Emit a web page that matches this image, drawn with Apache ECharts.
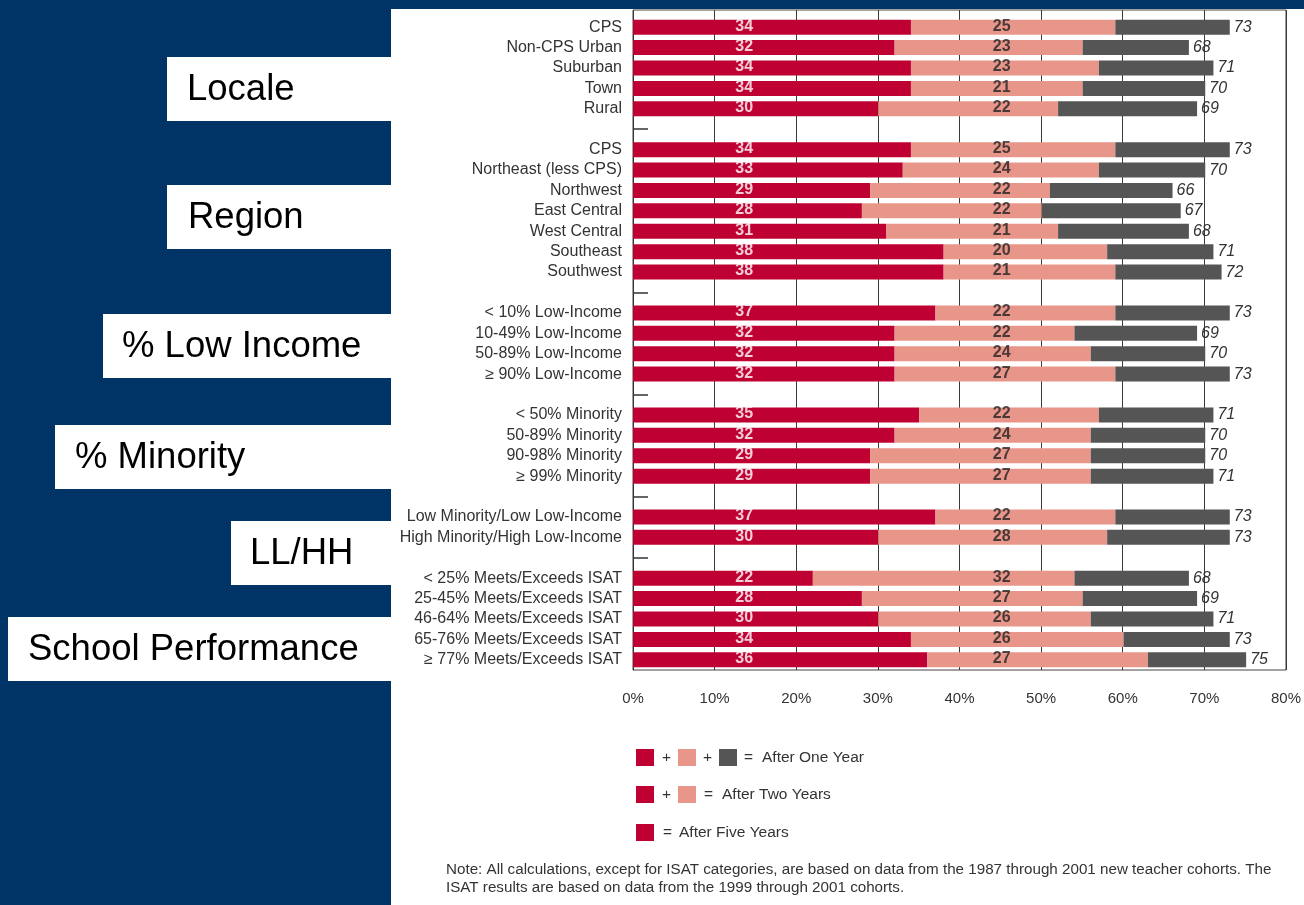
<!DOCTYPE html>
<html>
<head>
<meta charset="utf-8">
<title>New teacher retention by school characteristics</title>
<script src="https://cdn.jsdelivr.net/npm/echarts@6/dist/echarts.min.js"></script>
<style>
  html, body { margin: 0; padding: 0; background: #003366; }
  #chart { width: 1304px; height: 905px; }
</style>
</head>
<body>
<div id="chart"></div>
<script>
// Row labels, with an empty entry marking the gap between groups
const categories = [
  'CPS', 'Non-CPS Urban', 'Suburban', 'Town', 'Rural', '',
  'CPS', 'Northeast (less CPS)', 'Northwest', 'East Central', 'West Central', 'Southeast', 'Southwest', '',
  '< 10% Low-Income', '10-49% Low-Income', '50-89% Low-Income', '\u2265 90% Low-Income', '',
  '< 50% Minority', '50-89% Minority', '90-98% Minority', '\u2265 99% Minority', '',
  'Low Minority/Low Low-Income', 'High Minority/High Low-Income', '',
  '< 25% Meets/Exceeds ISAT', '25-45% Meets/Exceeds ISAT', '46-64% Meets/Exceeds ISAT',
  '65-76% Meets/Exceeds ISAT', '\u2265 77% Meets/Exceeds ISAT'
];

// Percent of new teachers who left after five years
const afterFiveYears = [34, 32, 34, 34, 30, null,
  34, 33, 29, 28, 31, 38, 38, null,
  37, 32, 32, 32, null,
  35, 32, 29, 29, null,
  37, 30, null,
  22, 28, 30, 34, 36];

// Additional percent counted after two years
const addedAfterTwoYears = [25, 23, 23, 21, 22, null,
  25, 24, 22, 22, 21, 20, 21, null,
  22, 22, 24, 27, null,
  22, 24, 27, 27, null,
  22, 28, null,
  32, 27, 26, 26, 27];

// Total percent after one year
const afterOneYear = [73, 68, 71, 70, 69, null,
  73, 70, 66, 67, 68, 71, 72, null,
  73, 69, 70, 73, null,
  71, 70, 70, 71, null,
  73, 73, null,
  68, 69, 71, 73, 75];

const xTicks = [0, 10, 20, 30, 40, 50, 60, 70, 80];

const groupLabels = ['Locale', 'Region', '% Low Income', '% Minority', 'LL/HH', 'School Performance'];

// Remaining segment of each bar: one-year total minus the two inner segments
const addedAfterOneYear = afterOneYear.map((t, i) =>
  t == null ? null : t - afterFiveYears[i] - addedAfterTwoYears[i]);

const RED = '#BE0032';
const SALMON = '#E8968A';
const GRAY = '#555555';
const FONT = '"Liberation Sans", Arial, Helvetica, sans-serif';

// Value labels sit in two fixed columns across the chart
const COL_FIVE = 13.6;
const COL_TWO = 45.1;

function columnPoints(values, x) {
  const pts = [];
  values.forEach((v, i) => { if (v != null) pts.push({ value: [x, i], v: v }); });
  return pts;
}

const chart = echarts.init(document.getElementById('chart'), null, { renderer: 'canvas' });

// Side panel with group names
const boxes = [
  { x: 167, y: 57, w: 224, text: groupLabels[0], tx: 187 },
  { x: 167, y: 185, w: 224, text: groupLabels[1], tx: 188 },
  { x: 103, y: 314, w: 288, text: groupLabels[2], tx: 122 },
  { x: 55, y: 425, w: 336, text: groupLabels[3], tx: 75 },
  { x: 231, y: 521, w: 160, text: groupLabels[4], tx: 250 },
  { x: 8, y: 617, w: 383, text: groupLabels[5], tx: 28 }
];

const graphics = [
  { type: 'rect', z: -10, silent: true,
    shape: { x: 391, y: 9, width: 913, height: 896 },
    style: { fill: '#ffffff' } }
];
boxes.forEach(b => {
  graphics.push({ type: 'rect', z: -5, silent: true,
    shape: { x: b.x, y: b.y, width: b.w, height: 64 },
    style: { fill: '#ffffff' } });
  graphics.push({ type: 'text', z: 5, silent: true,
    style: { x: b.tx, y: b.y + 33, text: b.text, fill: '#000', font: '36.5px ' + FONT,
      textVerticalAlign: 'middle', textAlign: 'left' } });
});

// Legend: colour sums
function sq(x, y, color) {
  return { type: 'rect', z: 5, silent: true, shape: { x: x, y: y, width: 18, height: 17 }, style: { fill: color } };
}
function txt(x, y, s, size) {
  return { type: 'text', z: 5, silent: true,
    style: { x: x, y: y, text: s, fill: '#333', font: (size || 15.5) + 'px ' + FONT,
      textVerticalAlign: 'middle', textAlign: 'left' } };
}
graphics.push(
  sq(636, 749, RED), txt(662, 758, '+'), sq(678, 749, SALMON), txt(703, 758, '+'),
  sq(719, 749, GRAY), txt(744, 758, '='), txt(762, 758, 'After One Year'),
  sq(636, 786, RED), txt(662, 795, '+'), sq(678, 786, SALMON), txt(704, 795, '='),
  txt(722, 795, 'After Two Years'),
  sq(636, 824, RED), txt(663, 833, '='), txt(679, 833, 'After Five Years'),
  txt(446, 870, 'Note: All calculations, except for ISAT categories, are based on data from the 1987 through 2001 new teacher cohorts. The', 15.2),
  txt(446, 888, 'ISAT results are based on data from the 1999 through 2001 cohorts.', 15.2)
);

const option = {
  backgroundColor: '#003366',
  animation: false,
  textStyle: { fontFamily: FONT },
  graphic: { elements: graphics },
  grid: [
    { left: 633, top: 10, width: 654, height: 660, show: true,
      borderColor: '#444', borderWidth: 1, backgroundColor: 'transparent' },
    { left: 633, top: 17, width: 654, height: 653 }
  ],
  xAxis: [
    { type: 'value', gridIndex: 0, min: 0, max: 80, interval: 10,
      axisLine: { show: false }, axisTick: { show: false },
      splitLine: { show: true, lineStyle: { color: '#3a3a3a', width: 1 } },
      axisLabel: { margin: 21, fontSize: 15, color: '#333', fontFamily: FONT,
        formatter: v => xTicks.indexOf(v) >= 0 ? v + '%' : '' } },
    { type: 'value', gridIndex: 1, min: 0, max: 80, show: false }
  ],
  yAxis: [
    { type: 'value', gridIndex: 0, min: 0, max: 1, show: false },
    { type: 'category', gridIndex: 1, data: categories, inverse: true,
      axisLine: { show: true, lineStyle: { color: '#333', width: 1 } },
      axisTick: { show: true, inside: true, length: 15, alignWithLabel: true,
        interval: (i, v) => v === '',
        lineStyle: { color: '#333', width: 1.5 } },
      axisLabel: { interval: 0, fontSize: 16, color: '#333', margin: 11, fontFamily: FONT },
      splitLine: { show: false } }
  ],
  series: [
    { name: 'After Five Years', type: 'bar', stack: 'total', xAxisIndex: 1, yAxisIndex: 1,
      barWidth: 15, data: afterFiveYears, itemStyle: { color: RED } },
    { name: 'After Two Years', type: 'bar', stack: 'total', xAxisIndex: 1, yAxisIndex: 1,
      barWidth: 15, data: addedAfterTwoYears, itemStyle: { color: SALMON } },
    { name: 'After One Year', type: 'bar', stack: 'total', xAxisIndex: 1, yAxisIndex: 1,
      barWidth: 15, data: addedAfterOneYear, itemStyle: { color: GRAY },
      label: { show: true, position: 'right', distance: 4,
        formatter: p => afterOneYear[p.dataIndex],
        fontSize: 16, fontStyle: 'italic', color: '#333', fontFamily: FONT } },
    { type: 'scatter', xAxisIndex: 1, yAxisIndex: 1, symbolSize: 0, silent: true, z: 5,
      data: columnPoints(afterFiveYears, COL_FIVE),
      label: { show: true, position: 'inside', formatter: p => p.data.v, offset: [0, -1],
        fontSize: 16, fontWeight: 'bold', color: '#fff', fontFamily: FONT } },
    { type: 'scatter', xAxisIndex: 1, yAxisIndex: 1, symbolSize: 0, silent: true, z: 5,
      data: columnPoints(addedAfterTwoYears, COL_TWO),
      label: { show: true, position: 'inside', formatter: p => p.data.v, offset: [0, -1],
        fontSize: 16, fontWeight: 'bold', color: '#222', fontFamily: FONT } }
  ]
};

chart.setOption(option);
</script>
</body>
</html>
